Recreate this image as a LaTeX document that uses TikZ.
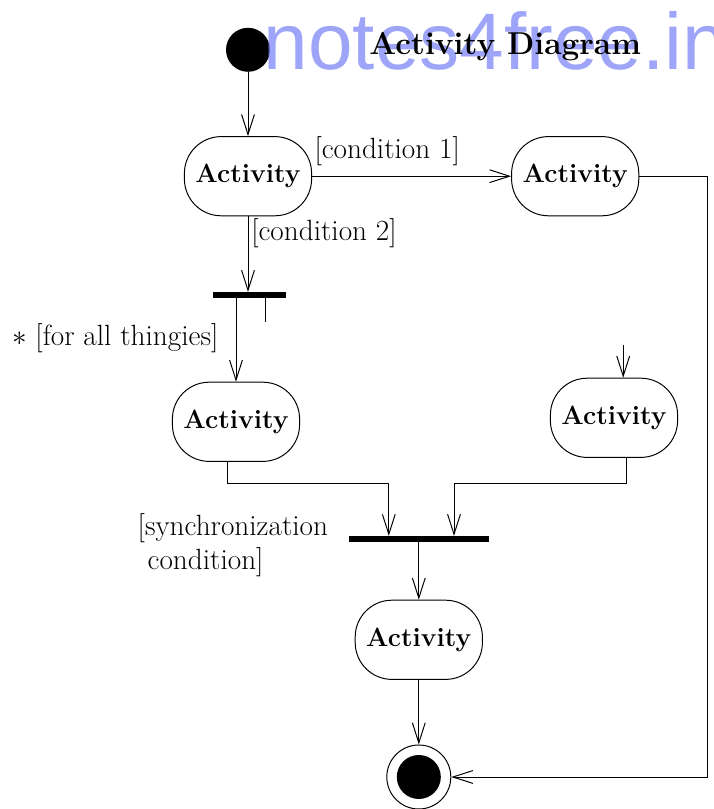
\documentclass[tikz,border=0pt]{standalone}
\usepackage{fontspec}
\newfontfamily\wmfont{Liberation Sans}
\usetikzlibrary{arrows.meta}
\definecolor{wmblue}{RGB}{125,135,245}
\begin{document}
\begin{tikzpicture}[>={Straight Barb[length=5mm,width=3.2mm]},line width=0.7pt,
  act/.style={draw,rounded corners=0.92cm,minimum width=3.18cm,minimum height=1.98cm,inner sep=0pt,font=\fontsize{18.8}{22}\selectfont\bfseries},
  bar/.style={fill,inner sep=0pt,minimum height=0.13cm},
  lbl/.style={font=\fontsize{20.8}{24}\selectfont,inner sep=0pt},
  endst/.style={circle,draw,minimum size=1.6cm,inner sep=0pt,path picture={\fill (path picture bounding box.center) circle (0.55cm);}}]
\useasboundingbox (0,0) rectangle (17.825,20.225);
% 起点
\node[circle,fill,minimum size=1.1cm,inner sep=0pt] (start) at (6.2,18.98) {};
% 水印
\node[anchor=base west,text=wmblue,opacity=0.75,inner sep=0pt,font=\wmfont\fontsize{57}{60}\selectfont] (wm) at (6.58,18.48) {notes4free.in};
% 标题
\node[anchor=base,font=\fontsize{22.5}{26}\selectfont\bfseries] (title) at (12.63,18.85) {Activity Diagram};
% 活动
\node[act] (a1) at (6.2,15.82) {Activity};
\node[act] (a2) at (14.38,15.82) {Activity};
\node[bar,minimum width=1.83cm] (fork1) at (6.24,12.85) {};
\node[act] (a3) at (5.9,9.68) {Activity};
\node[act] (a4) at (15.35,9.78) {Activity};
\node[bar,minimum width=3.5cm] (join) at (10.47,6.75) {};
\node[act] (a5) at (10.47,4.23) {Activity};
\node[endst] (end) at (10.47,0.8) {};
% 条件
\node[lbl] (c1) at (9.68,16.45) {[condition 1]};
\node[lbl,anchor=west] (c2) at (6.27,14.4) {[condition 2]};
\node[lbl] (each) at (2.88,11.78) {$\ast$ [for all thingies]};
\node[lbl,align=left,anchor=west] (sync) at (3.43,6.6) {[synchronization\\\hspace*{0.25cm}condition]};
% 转移
\draw[->] (start) -- (a1);
\draw[->] (a1.east) -- (a2.west);
\draw[->] (a1) -- (a1 |- fork1.north);
\draw[->] (fork1.south -| a3.north) -- (a3.north);
\draw ([xshift=0.39cm]fork1.south) -- ++(0,-0.6);
\coordinate (a4in) at (15.58,11.6);
\draw[->] (a4in) -- (a4in |- a4.north);
\draw[->] ([xshift=-0.22cm]a3.south) |- ([xshift=-0.75cm,yshift=1.32cm]join.north) -- ([xshift=-0.75cm]join.north);
\draw[->] ([xshift=0.3cm]a4.south) |- ([xshift=0.88cm,yshift=1.32cm]join.north) -- ([xshift=0.88cm]join.north);
\draw[->] (join) -- (a5);
\draw[->] (a5) -- (end);
\draw[->] (a2.east) -| ([xshift=6.4cm]end.east) -- (end);
\end{tikzpicture}
\end{document}
